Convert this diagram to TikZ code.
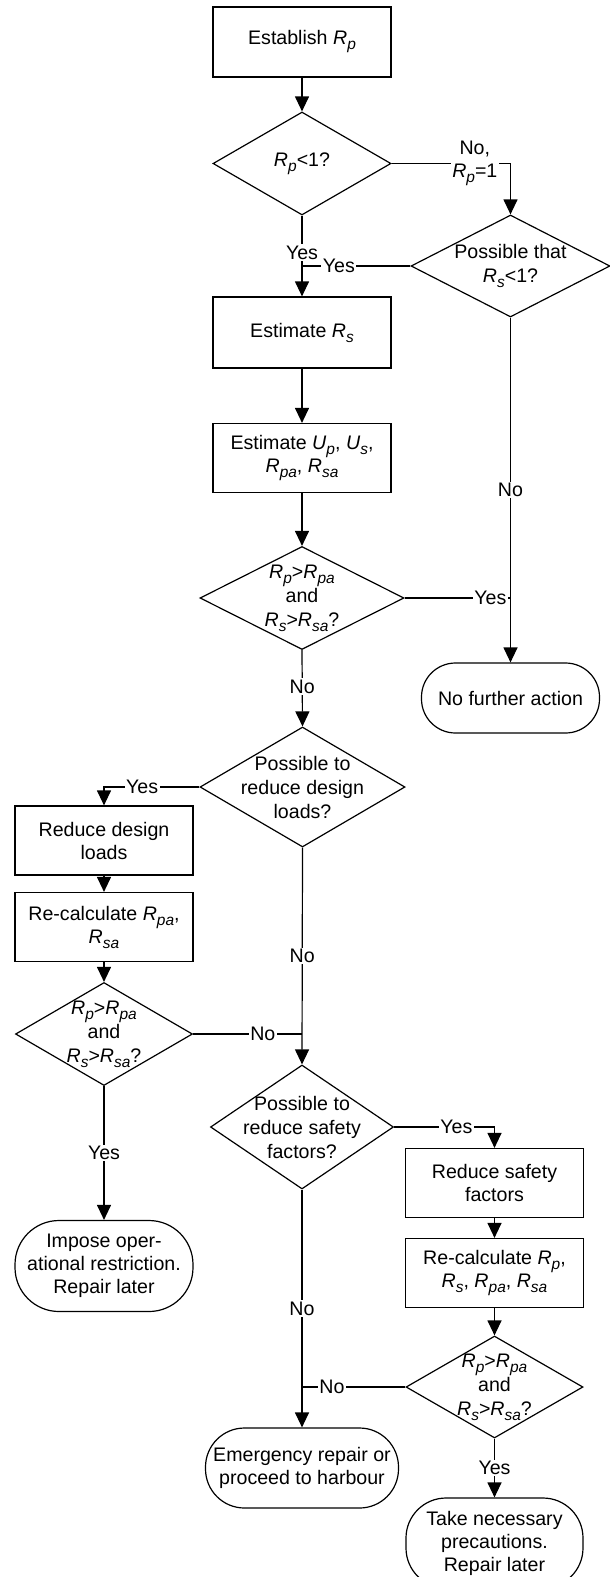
\documentclass[tikz,border=0pt]{standalone}
\usepackage{fontspec}
\setmainfont{Liberation Sans}
\usetikzlibrary{arrows.meta,shapes.geometric}
\newcommand\Vs[2]{\textit{#1}\raisebox{-5pt}{\fontsize{15.5}{15.5}\selectfont\textit{#2}}}
\begin{document}
\begin{tikzpicture}[x=1pt,y=-1pt,line width=1.2pt,
  every node/.style={font=\fontsize{19.6}{23}\selectfont,align=center,inner sep=0pt},
  box/.style={draw,rectangle,minimum width=178pt,minimum height=#1},
  dia/.style 2 args={draw,diamond,minimum width=#1pt,minimum height=#2pt},
  dtxt/.style={font=\fontsize{19.6}{24}\selectfont},
  term/.style n args={3}{draw,rectangle,rounded corners=#3,minimum width=#1,minimum height=#2},
  arr/.style={-{Triangle[length=15pt,width=14pt]}},
  lbl/.style={fill=white,inner sep=1.5pt}]
\useasboundingbox (0,0) rectangle (610,1577);
\clip (0,0) rectangle (610,1577);
% nodes
\node[box=70pt] (est) at (302,42) {Establish \Vs{R}{p}};
\node[dia={178}{103}] (d1) at (302,163.5) {};
\node[dtxt] (d1t) at (d1) {\Vs{R}{p}<1?};
\node[dia={199}{102}] (d2) at (510.5,266) {};
\node[dtxt] (d2t) at (d2) {Possible that\\\Vs{R}{s}<1?};
\node[box=71pt] (rs) at (302,332.5) {Estimate \Vs{R}{s}};
\node[box=69pt] (up) at (302,458) {Estimate \Vs{U}{p}, \Vs{U}{s},\\\Vs{R}{pa}, \Vs{R}{sa}};
\node[dia={204}{103}] (d3) at (302,598) {};
\node[dtxt] (d3t) at (d3) {\Vs{R}{p}>\Vs{R}{pa}\\and\\\Vs{R}{s}>\Vs{R}{sa}?};
\node[term={178pt}{70pt}{34pt}] (nfa) at (510.5,698) {No further action};
\node[dia={205}{120}] (d4) at (302.5,787) {};
\node[dtxt] (d4t) at (d4) {Possible to\\reduce design\\loads?};
\node[box=69pt] (rdl) at (104,840.5) {Reduce design\\loads};
\node[box=69pt] (rc1) at (104,927) {Re-calculate \Vs{R}{pa},\\\Vs{R}{sa}};
\node[dia={177}{103}] (d5) at (104,1034) {};
\node[dtxt] (d5t) at (d5) {\Vs{R}{p}>\Vs{R}{pa}\\and\\\Vs{R}{s}>\Vs{R}{sa}?};
\node[term={178pt}{91pt}{44pt}] (imp) at (104,1266) {Impose oper-\\ational restriction.\\Repair later};
\node[dia={183}{124}] (d6) at (302,1127) {};
\node[dtxt] (d6t) at (d6) {Possible to\\reduce safety\\factors?};
\node[box=69pt] (rsf) at (494.5,1183) {Reduce safety\\factors};
\node[box=69pt] (rc2) at (494.5,1273) {Re-calculate \Vs{R}{p},\\\Vs{R}{s}, \Vs{R}{pa}, \Vs{R}{sa}};
\node[dia={177}{102}] (d7) at (494.5,1387) {};
\node[dtxt] (d7t) at (d7) {\Vs{R}{p}>\Vs{R}{pa}\\and\\\Vs{R}{s}>\Vs{R}{sa}?};
\node[term={193pt}{80pt}{39pt}] (em) at (302,1468) {Emergency repair or\\proceed to harbour};
\node[term={177pt}{90pt}{40pt}] (take) at (494.5,1543) {Take necessary\\precautions.\\Repair later};
% connectors
\draw[arr] (est) -- (d1);
\draw[arr] (d1.east) -| (d2.north) node[lbl,pos=0.35] {No,\\\Vs{R}{p}=1};
\draw[arr] (d1.south) -- (rs.north) node[lbl,pos=0.46] {Yes};
\draw (d2.west) -- (d2.west -| rs.north) node[lbl,pos=0.66] {Yes};
\draw[arr] (d2.south) -- (nfa.north) node[lbl,pos=0.5] {No};
\draw[arr] (rs) -- (up);
\draw[arr] (up) -- (d3);
\draw (d3.east) -- (d3.east -| nfa.north) node[lbl,pos=0.81] {Yes};
\draw[arr] (d3.south) -- (d4.north) node[lbl,pos=0.48] {No};
\draw[arr] (d4.west) -| (rdl.north) node[lbl,pos=0.3] {Yes};
\draw[arr] (rdl) -- (rc1);
\draw[arr] (rc1) -- (d5);
\draw (d5.east) -- (d5.east -| d6.north) node[lbl,pos=0.64] {No};
\draw[arr] (d4.south) -- (d6.north) node[lbl,pos=0.5] {No};
\draw[arr] (d5.south) -- (imp.north) node[lbl,pos=0.5] {Yes};
\draw[arr] (d6.east) -| (rsf.north) node[lbl,pos=0.31] {Yes};
\draw[arr] (rsf) -- (rc2);
\draw[arr] (rc2) -- (d7);
\draw[arr] (d6.south) -- (em.north) node[lbl,pos=0.5] {No};
\draw (d7.west) -- (d7.west -| em.north) node[lbl,pos=0.71] {No};
\draw[arr] (d7.south) -- (take.north) node[lbl,pos=0.5] {Yes};
\end{tikzpicture}
\end{document}
